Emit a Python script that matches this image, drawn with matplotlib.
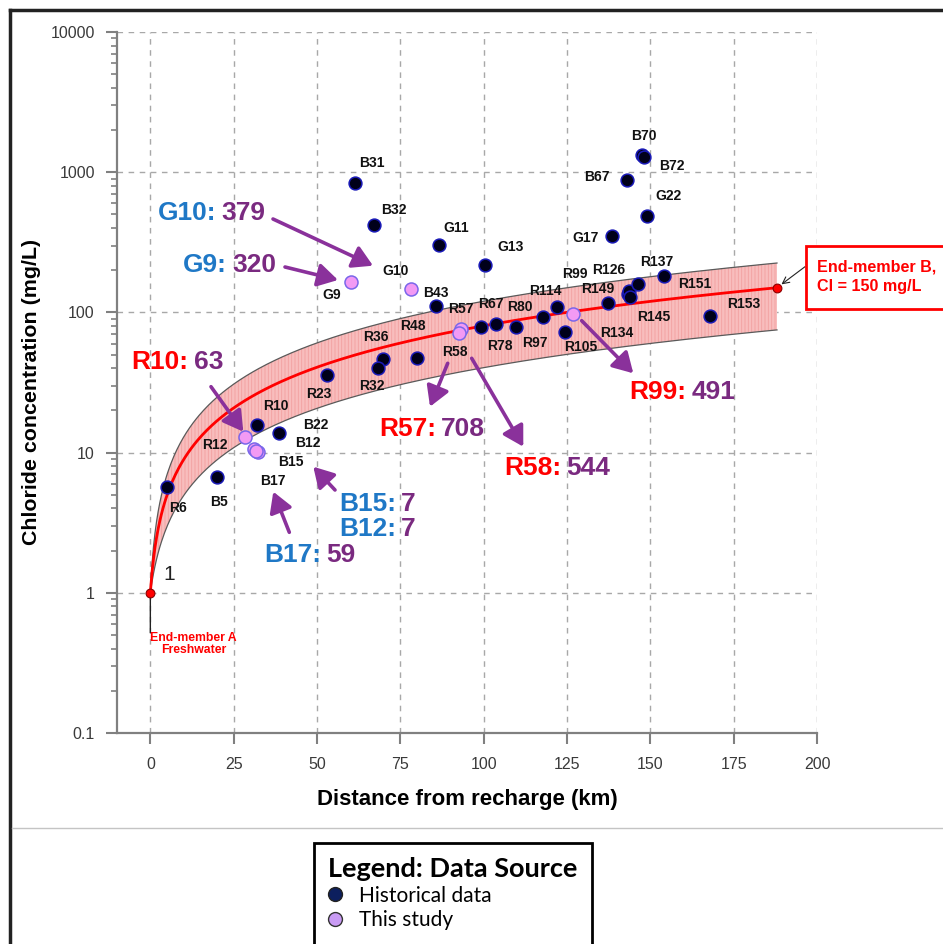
import numpy as np
import matplotlib
matplotlib.use("Agg")
import matplotlib.pyplot as plt
from matplotlib.lines import Line2D
from matplotlib.patches import Rectangle, FancyArrowPatch
from matplotlib.ticker import NullFormatter, LogLocator

plt.rcParams['font.family'] = ['Liberation Sans', 'DejaVu Sans']
plt.rcParams['hatch.linewidth'] = 0.6

# ---------------- data ----------------
hist_sites = ['B31', 'B32', 'G11', 'G13', 'G17', 'G22', 'B67', 'B70', 'B72', 'B43',
              'R48', 'R36', 'R32', 'R23', 'R10', 'B22', 'B5', 'R6', 'R67', 'R78',
              'R80', 'R97', 'R114', 'R105', 'R134', 'R149', 'R126', 'R145', 'R137',
              'R151', 'R153']
hist_dist = [61.5, 67.1, 86.7, 100.3, 138.4, 149.0, 142.9, 147.6, 148.1, 85.7,
             79.9, 69.7, 68.4, 52.9, 32.1, 38.5, 19.9, 4.9, 99.1, 103.8,
             109.6, 117.8, 122.1, 124.4, 137.2, 143.2, 143.7, 143.8, 146.4,
             154.2, 168.0]
hist_cl = [840, 420, 301, 219, 352, 484, 876, 1330, 1275, 111,
           47.5, 46.3, 40.1, 36.0, 15.7, 13.8, 6.7, 5.7, 79.1, 82.3,
           78.7, 92.3, 109.4, 72.5, 117.3, 134.6, 142.2, 128.8, 160.3,
           181.8, 94.8]

study_sites = ['G9', 'G10', 'R57', 'R58', 'R99', 'R12', 'B12', 'B15', 'B17']
study_dist = [60.1, 78.2, 93.2, 92.7, 126.7, 28.4, 31.0, 32.3, 31.8]
study_cl = [164, 147, 76.2, 71.0, 96.9, 12.9, 10.6, 10.1, 10.3]

endmember_dist = [0, 188]
endmember_cl = [1, 150]
band_end_low = 75
band_end_high = 225

callout_sites = ['G10', 'G9', 'R10', 'R57', 'R58', 'R99', 'B15', 'B12', 'B17']
callout_values = ['379', '320', '63', '708', '544', '491', '7', '7', '59']

xticks = [0, 25, 50, 75, 100, 125, 150, 175, 200]
yticks = [0.1, 1, 10, 100, 1000, 10000]
ytick_labels = ['0.1', '1', '10', '100', '1000', '10000']

# ---------------- layout / style ----------------
W, H = 943, 944
def fx(px):
    return px / W
def fy(py):
    return 1 - py / H

label_offsets = {
    'B31': (17, 20), 'B32': (20, 15), 'G11': (17, 17), 'G13': (26, 18),
    'G17': (-26, -2), 'G22': (21, 20), 'B67': (-30, 3), 'B70': (2, 19),
    'B72': (28, -9), 'B43': (0, 13), 'R48': (-4, 32), 'R36': (-7, 22),
    'R32': (-7, -18), 'R23': (-8, -19), 'R10': (19, 19), 'B22': (37, 8),
    'B5': (2, -25), 'R6': (11, -21), 'R67': (10, 23), 'R78': (4, -22),
    'R80': (4, 20), 'R97': (-8, -26), 'R114': (-12, 16), 'R105': (16, -15),
    'R134': (9, -30), 'R149': (-30, 5), 'R126': (-21, 21), 'R145': (24, -20),
    'R137': (18, 22), 'R151': (30, -8), 'R153': (33, 12),
    'G9': (-19, -13), 'G10': (-15, 18), 'R57': (0, 20), 'R58': (-4, -19),
    'R99': (2, 40), 'R12': (-30, -8), 'B12': (54, 6), 'B15': (33, -10),
    'B17': (17, -30),
}

callout_pos = {  # left x px, center y px
    'G10': (157.7, 211), 'G9': (183.3, 262.3), 'R10': (131.7, 360),
    'R57': (379.3, 426.7), 'R58': (504, 465.5), 'R99': (629.3, 389.3),
    'B15': (339.3, 501.7), 'B12': (339.3, 526), 'B17': (264.3, 552.3),
}
callout_arrows = {  # tail px -> head px
    'G10': ((273, 219), (373, 265.7)), 'G9': ((285, 267), (338, 280)),
    'R10': ((211, 386.7), (243.3, 431.7)), 'R57': ((447.7, 363.3), (430, 406.7)),
    'R58': ((471.7, 358.3), (523.3, 446.7)), 'R99': ((581.7, 320.7), (633.3, 373.3)),
    'B15': ((335, 490), (313.3, 466.7)), 'B17': ((289.3, 532.3), (273.3, 491.7)),
}

BLUE = '#1F78C6'
PURPLE = '#7A2A80'
RED = '#FF0000'
ARROW = '#8A319B'
GRIDC = '#a8a8a8'
AXC = '#808080'

fig = plt.figure(figsize=(W / 100, H / 100), dpi=100)
ax = fig.add_axes([fx(117), fy(733), (817 - 117) / W, (733 - 32) / H])
ax.set_yscale('log')
ax.set_xlim(-10, 200)
ax.set_ylim(0.1, 10000)

# mixing line and envelope
xm = np.linspace(endmember_dist[0], endmember_dist[1], 400)
frac = (xm - endmember_dist[0]) / (endmember_dist[1] - endmember_dist[0])
mix = endmember_cl[0] + (endmember_cl[1] - endmember_cl[0]) * frac
upper = endmember_cl[0] + (band_end_high - endmember_cl[0]) * frac
lower = endmember_cl[0] + (band_end_low - endmember_cl[0]) * frac
ax.fill_between(xm, lower, upper, facecolor='#F8BDBD', edgecolor='#F2A0A0',
                hatch='|||||', linewidth=0, zorder=1)
ax.plot(xm, upper, color='#5a5a5a', lw=0.9, zorder=2)
ax.plot(xm, lower, color='#5a5a5a', lw=0.9, zorder=2)
ax.plot(xm, mix, color=RED, lw=2.0, zorder=3)

# points
ax.scatter(hist_dist, hist_cl, s=85, c='#00001a', edgecolors='#1a1ab8',
           linewidths=1.1, zorder=5)
ax.scatter(study_dist, study_cl, s=88, c='#F29AF4', edgecolors='#7A66EA',
           linewidths=1.1, zorder=6)
ax.scatter(endmember_dist, endmember_cl, s=40, c=RED, edgecolors='#8b0000',
           linewidths=0.8, zorder=7, clip_on=False)

for name, x, y in list(zip(hist_sites, hist_dist, hist_cl)) + \
        list(zip(study_sites, study_dist, study_cl)):
    ax.annotate(name, (x, y), xytext=label_offsets[name], textcoords='offset pixels',
                ha='center', va='center', fontsize=10, fontweight='bold',
                color='#111111', zorder=8)

# end-member A annotations
ax.annotate('1', (endmember_dist[0], endmember_cl[0]), xytext=(19, 18),
            textcoords='offset pixels', ha='center', va='center', fontsize=15,
            color='#222222')
ax.annotate('', (endmember_dist[0], endmember_cl[0]), xytext=(0, -40),
            textcoords='offset pixels',
            arrowprops=dict(arrowstyle='-', color='#222222', lw=1.0,
                            shrinkA=0, shrinkB=0))
ax.annotate('End-member A\nFreshwater', (endmember_dist[0], endmember_cl[0]),
            xytext=(43, -51), textcoords='offset pixels', ha='center', va='center',
            fontsize=8.8, fontweight='bold', color=RED, linespacing=1.05)

# axes styling
ax.set_xticks(xticks)
ax.set_yticks(yticks, ytick_labels)
ax.yaxis.set_minor_locator(LogLocator(base=10, subs=np.arange(2, 10)))
ax.yaxis.set_minor_formatter(NullFormatter())
ax.grid(True, which='major', color=GRIDC, ls=(0, (4, 4)), lw=1.0, zorder=0)
ax.set_axisbelow(True)
for s in ['top', 'right']:
    ax.spines[s].set_visible(False)
for s in ['left', 'bottom']:
    ax.spines[s].set_color(AXC)
    ax.spines[s].set_linewidth(1.6)
ax.tick_params(axis='both', which='major', length=8, width=1.5, color=AXC,
               labelsize=11.5, labelcolor='#3a3a3a')
ax.tick_params(axis='y', which='minor', length=4, width=1.2, color=AXC)
ax.tick_params(axis='x', pad=9)
ax.tick_params(axis='y', pad=8)
ax.set_xlabel('Distance from recharge (km)', fontsize=16, fontweight='bold', va='center')
ax.xaxis.set_label_coords(0.5, (733 - 800) / 701)
ax.set_ylabel('Chloride concentration (mg/L)', fontsize=15.4, fontweight='bold', va='center')
ax.yaxis.set_label_coords((32 - 117) / 700, (733 - 392) / 701)

# end-member B callout box
fig.add_artist(Rectangle((fx(806), fy(309)), 200 / W, 63 / H, transform=fig.transFigure,
                         facecolor='white', edgecolor=RED, lw=2, zorder=9))
fig.text(fx(817), fy(266.7), 'End-member B,', color=RED, fontsize=11.6,
         fontweight='bold', ha='left', va='center', zorder=10)
fig.text(fx(817), fy(286.7), 'Cl = 150 mg/L', color=RED, fontsize=11.6,
         fontweight='bold', ha='left', va='center', zorder=10)
ax.annotate('', (endmember_dist[1], endmember_cl[1]), xytext=(fx(805), fy(266.7)),
            textcoords='figure fraction',
            arrowprops=dict(arrowstyle='->', color='#222222', lw=0.8, shrinkA=0,
                            shrinkB=4, mutation_scale=12), annotation_clip=False)

# two-colour callouts
renderer = fig.canvas.get_renderer()
CFS = 19
for site, val in zip(callout_sites, callout_values):
    x0, yc = callout_pos[site]
    c1 = RED if site.startswith('R') else BLUE
    t1 = fig.text(fx(x0), fy(yc + 9.5), site + ':', color=c1, fontsize=CFS,
                  fontweight='bold', ha='left', va='baseline')
    bb = t1.get_window_extent(renderer)
    fig.text((bb.x1 + 5) / W, fy(yc + 9.5), val, color=PURPLE, fontsize=CFS,
             fontweight='bold', ha='left', va='baseline')
    if site in callout_arrows:
        (tx, ty), (hx, hy) = callout_arrows[site]
        arr = FancyArrowPatch((fx(tx), fy(ty)), (fx(hx), fy(hy)),
                              transform=fig.transFigure,
                              arrowstyle='-|>,head_length=0.55,head_width=0.32',
                              mutation_scale=22, color=ARROW, lw=2.6,
                              shrinkA=0, shrinkB=0, zorder=9)
        fig.add_artist(arr)

# outer frame and separator
fig.add_artist(Line2D([fx(10), fx(10)], [0, fy(10)], transform=fig.transFigure,
                      color='#222222', lw=2.5))
fig.add_artist(Line2D([fx(10), 1], [fy(10), fy(10)], transform=fig.transFigure,
                      color='#222222', lw=2.5))
fig.add_artist(Line2D([fx(12), 1], [fy(828), fy(828)], transform=fig.transFigure,
                      color='#c4c4c4', lw=1.0))

# legend
handles = [Line2D([], [], ls='', marker='o', markersize=10, markerfacecolor='#0c1f5e',
                  markeredgecolor='#222222'),
           Line2D([], [], ls='', marker='o', markersize=10, markerfacecolor='#C99BF4',
                  markeredgecolor='#333333')]
leg = fig.legend(handles, ['Historical data', 'This study'], loc='upper left',
                 bbox_to_anchor=(fx(314), fy(843)), borderaxespad=0,
                 title='Legend: Data Source', alignment='left',
                 title_fontproperties={'family': 'Lato', 'weight': 'bold', 'size': 19.5},
                 prop={'family': 'Lato', 'size': 15}, frameon=True, fancybox=False,
                 edgecolor='black', framealpha=1, handlelength=0.7,
                 handletextpad=0.8, labelspacing=0.22, borderpad=0.68)
leg.get_frame().set_linewidth(2)

fig.savefig('out.png', dpi=100)
